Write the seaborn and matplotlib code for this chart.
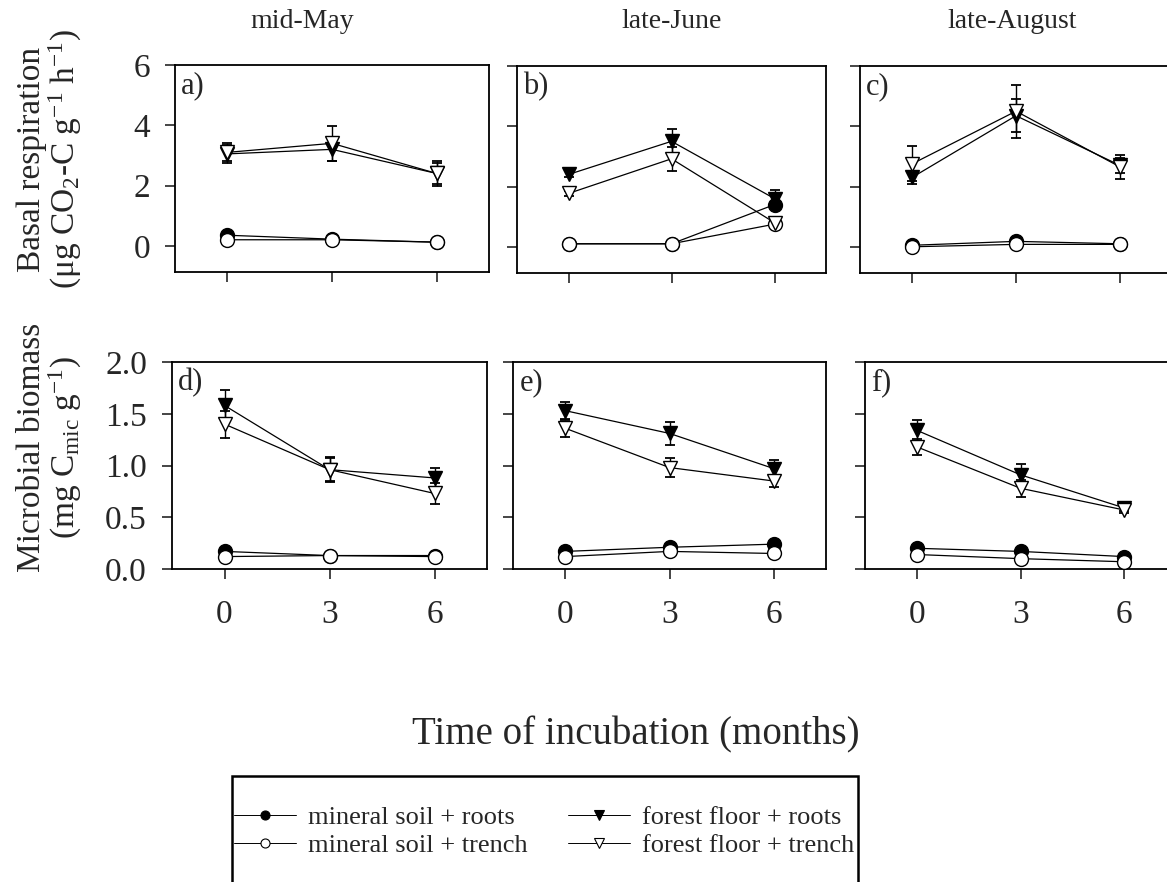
import matplotlib
matplotlib.use("Agg")
import matplotlib.pyplot as plt
import seaborn as sns
from matplotlib.lines import Line2D
from matplotlib.patches import Rectangle

# ---------------------------------------------------------------- data
months = [0, 3, 6]
seasons = ["mid-May", "late-June", "late-August"]
resp_tags = ["a)", "b)", "c)"]
biom_tags = ["d)", "e)", "f)"]
treatments = ["mineral soil + roots", "mineral soil + trench",
              "forest floor + roots", "forest floor + trench"]

# basal respiration (µg CO2-C g-1 h-1); rows = sampling date, columns = months
resp_min_roots = [[0.35, 0.22, 0.12], [0.10, 0.10, 1.40], [0.05, 0.18, 0.10]]
resp_min_trench = [[0.20, 0.20, 0.12], [0.10, 0.10, 0.75], [0.00, 0.08, 0.08]]
resp_ff_roots = [[3.05, 3.20, 2.40], [2.40, 3.50, 1.60], [2.30, 4.35, 2.70]]
resp_ff_trench = [[3.10, 3.40, 2.40], [1.77, 2.92, 0.80], [2.75, 4.50, 2.65]]
resp_min_roots_se = [[0.04, 0.03, 0.02], [0.02, 0.02, 0.10], [0.02, 0.03, 0.02]]
resp_min_trench_se = [[0.03, 0.03, 0.02], [0.02, 0.02, 0.08], [0.02, 0.02, 0.02]]
resp_ff_roots_se = [[0.30, 0.40, 0.35], [0.10, 0.40, 0.30], [0.20, 0.55, 0.25]]
resp_ff_trench_se = [[0.30, 0.58, 0.42], [0.08, 0.40, 0.10], [0.58, 0.88, 0.40]]

# microbial biomass (mg Cmic g-1)
biom_min_roots = [[0.17, 0.13, 0.13], [0.17, 0.21, 0.24], [0.20, 0.17, 0.12]]
biom_min_trench = [[0.12, 0.13, 0.12], [0.12, 0.17, 0.15], [0.14, 0.10, 0.07]]
biom_ff_roots = [[1.58, 0.96, 0.88], [1.53, 1.31, 0.97], [1.34, 0.91, 0.59]]
biom_ff_trench = [[1.40, 0.96, 0.73], [1.36, 0.98, 0.85], [1.18, 0.78, 0.57]]
biom_min_roots_se = [[0.02, 0.02, 0.02], [0.02, 0.02, 0.02], [0.02, 0.02, 0.02]]
biom_min_trench_se = [[0.02, 0.02, 0.02], [0.02, 0.02, 0.02], [0.02, 0.02, 0.02]]
biom_ff_roots_se = [[0.15, 0.12, 0.10], [0.08, 0.11, 0.08], [0.10, 0.10, 0.03]]
biom_ff_trench_se = [[0.13, 0.11, 0.10], [0.08, 0.09, 0.06], [0.08, 0.08, 0.03]]

# ---------------------------------------------------------------- style
sns.set_theme(style="ticks")
plt.rcParams["font.family"] = ["Liberation Serif", "DejaVu Serif"]
plt.rcParams["mathtext.fontset"] = "custom"
plt.rcParams["mathtext.rm"] = "Liberation Serif"
plt.rcParams["mathtext.it"] = "Liberation Serif:italic"
plt.rcParams["axes.linewidth"] = 1.3

marker_styles = [
    dict(marker="o", markerfacecolor="black"),
    dict(marker="o", markerfacecolor="white"),
    dict(marker="v", markerfacecolor="black"),
    dict(marker="v", markerfacecolor="white"),
]

W, H = 1167, 882
fig = plt.figure(figsize=(W / 100, H / 100), dpi=100)


def add_box(left, top, right, bottom):
    return fig.add_axes([left / W, 1 - bottom / H, (right - left) / W, (bottom - top) / H])


top_boxes = [(175, 65, 489, 272), (517, 66, 826, 273), (860, 66, 1172, 273)]
bot_boxes = [(172, 362, 487, 569), (513, 362, 826, 569), (865, 362, 1176, 569)]
title_x = [302, 672, 1012]


def draw_panel(ax, means, errors, tag):
    for m, e in zip(means, errors):
        ax.errorbar(months, m, yerr=e, fmt="none", ecolor="black",
                    elinewidth=1.0, capsize=3.8, capthick=1.3, zorder=2)
    for m, style in zip(means, marker_styles):
        sns.lineplot(x=months, y=m, ax=ax, color="black", linewidth=0.9,
                     markersize=10, markeredgecolor="black", markeredgewidth=1.0,
                     errorbar=None, zorder=3, **style)
    ax.set_xlim(-1.5, 7.5)
    ax.set_xticks(months)
    ax.tick_params(direction="out", length=7, width=1.2, labelsize=24,
                   top=False, right=False)
    ax.tick_params(axis="x", pad=15)
    ax.tick_params(axis="y", pad=11)
    for s in ax.spines.values():
        s.set_visible(True)
        s.set_color("black")
    ax.text(0.02, 0.97, tag, transform=ax.transAxes, ha="left", va="top", fontsize=22)
    ax.set_xlabel("")
    ax.set_ylabel("")


for i in range(3):
    ax = add_box(*top_boxes[i])
    means = [resp_min_roots[i], resp_min_trench[i], resp_ff_roots[i], resp_ff_trench[i]]
    errs = [resp_min_roots_se[i], resp_min_trench_se[i], resp_ff_roots_se[i], resp_ff_trench_se[i]]
    draw_panel(ax, means, errs, resp_tags[i])
    ax.set_ylim(-0.87, 6.0)
    ax.set_yticks([0, 2, 4, 6])
    ax.set_xticklabels([])
    if i > 0:
        ax.set_yticklabels([])
    fig.text(title_x[i] / W, 1 - 22 / H, seasons[i], ha="center", va="center", fontsize=20)

for i in range(3):
    ax = add_box(*bot_boxes[i])
    means = [biom_min_roots[i], biom_min_trench[i], biom_ff_roots[i], biom_ff_trench[i]]
    errs = [biom_min_roots_se[i], biom_min_trench_se[i], biom_ff_roots_se[i], biom_ff_trench_se[i]]
    draw_panel(ax, means, errs, biom_tags[i])
    ax.set_ylim(0, 2.0)
    ax.set_yticks([0.0, 0.5, 1.0, 1.5, 2.0])
    ax.set_yticklabels(["0.0", "0.5", "1.0", "1.5", "2.0"])
    if i > 0:
        ax.set_yticklabels([])

# axis titles
fig.text(50 / W, 1 - 159 / H,
         "Basal respiration\n(μg CO$_{\\mathrm{2}}$-C g$^{\\mathrm{-1}}$ h$^{\\mathrm{-1}}$)",
         rotation=90, ha="center", va="center", multialignment="center", fontsize=24,
         linespacing=1.0)
fig.text(50 / W, 1 - 447 / H,
         "Microbial biomass\n(mg C$_{\\mathrm{mic}}$ g$^{\\mathrm{-1}}$)",
         rotation=90, ha="center", va="center", multialignment="center", fontsize=24,
         linespacing=1.0)
fig.text(636 / W, 1 - 735 / H, "Time of incubation (months)",
         ha="center", va="center", fontsize=28)

# legend: two columns placed side by side inside an open-bottomed box
handles = [Line2D([], [], color="black", linewidth=0.7, markersize=6.5,
                  markeredgecolor="black", markeredgewidth=0.8, **st)
           for st in marker_styles]
legend_kw = dict(loc="upper left", bbox_transform=fig.transFigure, frameon=False,
                 fontsize=19, handlelength=2.35, handletextpad=0.45,
                 labelspacing=0.15, borderaxespad=0, borderpad=0)
fig.legend(handles[:2], treatments[:2],
           bbox_to_anchor=(234 / W, 1 - 806 / H), **legend_kw)
fig.legend(handles[2:], treatments[2:],
           bbox_to_anchor=(568 / W, 1 - 806 / H), **legend_kw)
fig.add_artist(Rectangle((232 / W, -0.1), 626 / W, 0.1 + (1 - 776 / H),
                         transform=fig.transFigure, fill=False, edgecolor="black",
                         linewidth=1.8, clip_on=False))

fig.savefig("out.png", dpi=100)
